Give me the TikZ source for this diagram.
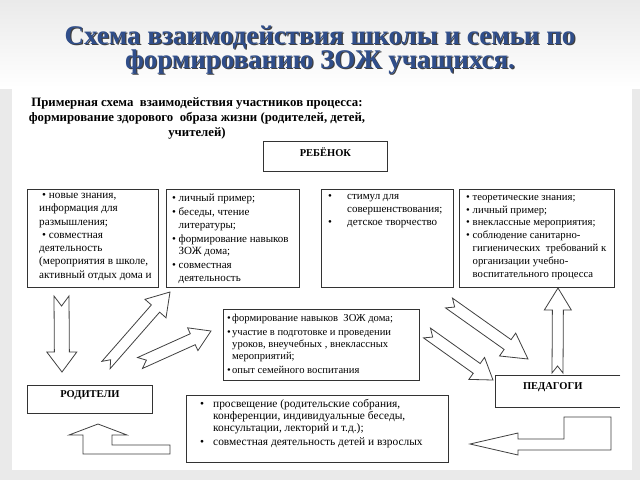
\documentclass[tikz,border=0pt]{standalone}
\usepackage{fontspec}
\setmainfont{Liberation Serif}
\usetikzlibrary{calc}
\newcommand{\blockarr}[6]{%
  \draw[barrow] ($(#1)!#3!90:(#2)$) -- ($(#2)!#5!(#1)!#3!-90:(#1)$) --
    ($(#2)!#5!(#1)!#4!-90:(#1)$) -- (#2) -- ($(#2)!#5!(#1)!#4!90:(#1)$) --
    ($(#2)!#5!(#1)!#3!90:(#1)$) -- ($(#1)!#3!-90:(#2)$) -- ($(#1)!#6!(#2)$) -- cycle;}
\newcommand{\bl}{\makebox[6.5pt][l]{\textbullet}}
\newcommand{\hi}{\hspace*{6.5pt}}
\definecolor{titleblue}{RGB}{48,78,138}
\definecolor{bggray}{RGB}{234,234,234}
\begin{document}
\begin{tikzpicture}[x=1pt,y=-1pt]
\tikzset{
  box/.style={draw=black!80, line width=0.9pt, fill=white, inner sep=0pt},
  barrow/.style={draw=black!75, line width=0.8pt, fill=white, line join=miter},
  btext/.style={align=left, anchor=north west, inner sep=0pt},
  lbl/.style={font=\bfseries\fontsize{10.5}{12}\selectfont, inner sep=0pt},
  titletext/.style={font=\bfseries\fontsize{27}{24.5}\selectfont, inner sep=0pt, align=center, text=titleblue},
  titleshadow/.style={titletext, text=black!75},
}
% background
\fill[bggray] (0,0) rectangle (640,480);
\shade[top color=bggray, bottom color=white] (0,0) rectangle (640,88);
\fill[white] (12,88) rectangle (632,470);
\useasboundingbox (0,0) rectangle (640,480);
% title
\node[titleshadow] at (321.2,51.2) {Схема взаимодействия школы и семьи по\\формированию ЗОЖ учащихся.};
\node[titletext] (title) at (320,50) {Схема взаимодействия школы и семьи по\\формированию ЗОЖ учащихся.};
% header
\node[font=\bfseries\fontsize{12.8}{15}\selectfont, align=center, inner sep=0pt] (hdr) at (197,118)
  {Примерная схема\ \ взаимодействия участников процесса:\\формирование здорового\ \ образа жизни (родителей, детей,\\учителей)};
% child
\node[box, anchor=north west, minimum width=124, minimum height=30] (child) at (263,141) {};
\node[lbl] at ($(child.north)+(0,11)$) {РЕБЁНОК};
% row boxes
\node[box, anchor=north west, minimum width=131, minimum height=98] (b1) at (27,189) {};
\node[box, anchor=north west, minimum width=133, minimum height=98] (b2) at (166,189) {};
\node[box, anchor=north west, minimum width=132, minimum height=98] (b3) at (321,189) {};
\node[box, anchor=north west, minimum width=155, minimum height=98] (b4) at (459,189) {};
\node[btext, font=\fontsize{11.2}{13.3}\selectfont] at ($(b1.north west)+(12,4)$)
  {\hspace*{3pt}\textbullet\ новые знания,\\информация для\\размышления;\\\hspace*{3pt}\textbullet\ совместная\\деятельность\\(мероприятия в школе,\\активный отдых дома и};
\node[btext, font=\fontsize{11}{12.5}\selectfont] at ($(b2.north west)+(6,5)$)
  {\bl личный пример;\\[1.5pt]\bl беседы, чтение\\\hi литературы;\\[1.5pt]\bl формирование навыков\\\hi ЗОЖ дома;\\[1.5pt]\bl совместная\\\hi деятельность};
\node[btext, font=\fontsize{11}{13}\selectfont] at ($(b3.north west)+(7,5)$)
  {\makebox[19pt][l]{\textbullet}стимул для\\\hspace*{19pt}совершенствования;\\\makebox[19pt][l]{\textbullet}детское творчество};
\node[btext, font=\fontsize{10.7}{12.8}\selectfont] at ($(b4.north west)+(7,6)$)
  {\bl теоретические знания;\\\bl личный пример;\\\bl внеклассные мероприятия;\\\bl соблюдение санитарно-\\\hi гигиенических\ \ требований к\\\hi организации учебно-\\\hi воспитательного процесса};
% middle box
\node[box, anchor=north west, minimum width=196, minimum height=71] (mid) at (223,309) {};
\node[btext, font=\fontsize{10.6}{12}\selectfont] at ($(mid.north west)+(4,5)$)
  {\makebox[5pt][l]{\textbullet}формирование навыков\ \ ЗОЖ дома;\\[2pt]\makebox[5pt][l]{\textbullet}участие в подготовке и проведении\\\hspace*{5pt}уроков, внеучебных , внеклассных\\\hspace*{5pt}мероприятий;\\[2pt]\makebox[5pt][l]{\textbullet}опыт семейного воспитания};
% bottom box
\node[box, anchor=north west, minimum width=262, minimum height=67] (bot) at (186,395) {};
\node[btext, font=\fontsize{11.4}{12.2}\selectfont] at ($(bot.north west)+(14,4)$)
  {\makebox[13pt][l]{\textbullet}просвещение (родительские собрания,\\\hspace*{13pt}конференции, индивидуальные беседы,\\\hspace*{13pt}консультации, лекторий и т.д.);\\[2pt]\makebox[13pt][l]{\textbullet}совместная деятельность детей и взрослых};
% parents / teachers
\node[box, anchor=north west, minimum width=125, minimum height=28] (par) at (27,385) {};
\node[lbl] at ($(par.north)+(0,10)$) {РОДИТЕЛИ};
\node[inner sep=0pt, anchor=north west, minimum width=125, minimum height=32] (ped) at (495,375) {};
\draw[draw=black!80, line width=0.9pt] (ped.north east) -- (ped.north west) -- (ped.south west) -- (ped.south east);
\node[lbl] at ($(ped.north)+(-5,12)$) {ПЕДАГОГИ};
% block arrows
\coordinate (dA) at (61.5,296); \coordinate (dB) at (62,372);
\blockarr{dA}{dB}{7.5pt}{15pt}{20pt}{10pt}
\coordinate (uA) at (557.5,373); \coordinate (uB) at (558,288);
\blockarr{uA}{uB}{5.5pt}{13.5pt}{22pt}{7pt}
\coordinate (aA) at (106,365); \coordinate (aB) at (170,292);
\blockarr{aA}{aB}{5.5pt}{14pt}{22pt}{7pt}
\coordinate (bA) at (140,363); \coordinate (bB) at (211,331);
\blockarr{bA}{bB}{6pt}{12.5pt}{20pt}{7pt}
\coordinate (cA) at (449,303); \coordinate (cB) at (528,359);
\blockarr{cA}{cB}{6pt}{14pt}{25pt}{7pt}
\coordinate (eA) at (427,333); \coordinate (eB) at (493,380);
\blockarr{eA}{eB}{6pt}{13.5pt}{20pt}{7pt}
% U-turn arrow (up) under parents
\draw[barrow] (98,424) -- (127,435) -- (112,435) -- (112,445) -- (170,445) -- (170,454)
  -- (83,454) -- (83,435) -- (69,435) -- cycle;
% L arrow (left) under teachers
\draw[barrow] (470,444) -- (518,433) -- (518,439) -- (564,439) -- (564,417) -- (611,417)
  -- (611,450) -- (518,450) -- (518,455) -- cycle;
\end{tikzpicture}
\end{document}
